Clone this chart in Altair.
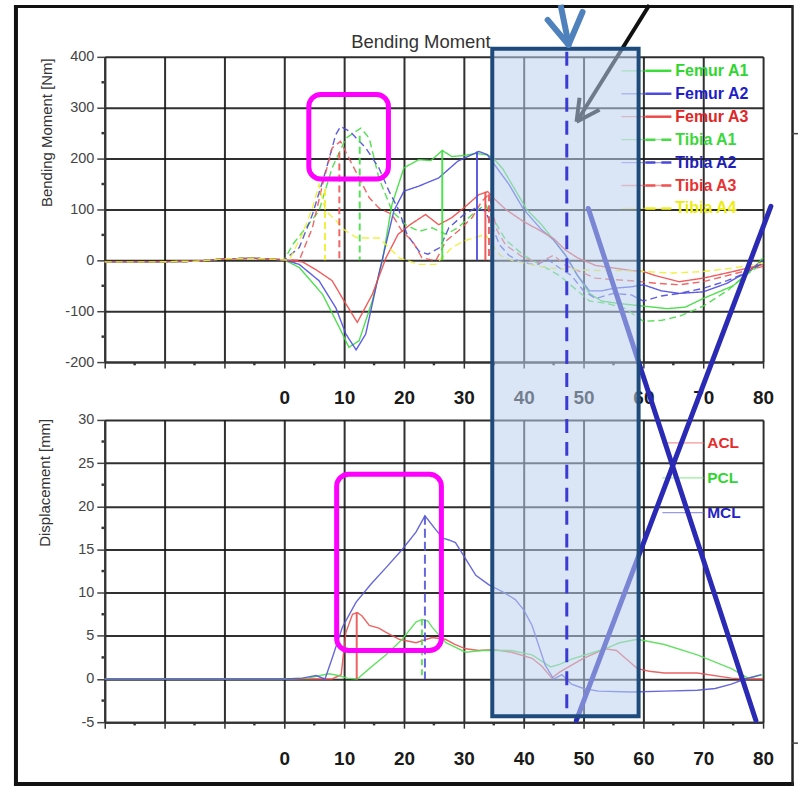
import altair as alt
import pandas as pd

# ---------------- data ----------------
top_series = ["Femur A1", "Femur A2", "Femur A3", "Tibia A1", "Tibia A2", "Tibia A3", "Tibia A4"]

femur_a1_x = [-30, -22, -15, -10, -5, 0, 2.5, 6.4, 9.2, 10.8, 12.5, 14.7, 16.4, 18, 20, 22.5, 24.5, 26.4, 28, 30,
              32, 34, 35, 36.5, 38.5, 40.5, 43, 45, 47, 49, 51, 53, 56, 60, 64, 67, 70, 75, 78, 80]
femur_a1_y = [-3, -3, -2, 3, 4, 1, -14, -67, -132, -171, -158, -80, 0, 110, 182, 198, 196, 216, 204, 206,
              210, 207, 200, 180, 140, 100, 70, 40, 10, -30, -65, -80, -85, -90, -95, -92, -75, -50, -20, 5]

femur_a2_x = [-30, -22, -15, -10, -5, 0, 2.5, 5.8, 8.6, 10.3, 12, 13.6, 15.8, 18.3, 20, 22.5, 25.8, 29, 32.5, 33.9,
              35, 37.5, 40, 43, 45, 47, 49, 51, 53, 55, 58, 60, 63, 66, 70, 74, 77, 80]
femur_a2_y = [-3, -3, -2, 3, 4, 1, -8, -40, -93, -145, -176, -145, -27, 97, 136, 146, 162, 195, 214, 208,
              190, 150, 100, 60, 40, 10, -30, -60, -60, -55, -52, -48, -60, -65, -62, -45, -25, 0]

femur_a3_x = [-30, -22, -15, -10, -5, 0, 3, 5.5, 8, 10, 12.2, 14.7, 17, 19, 21, 23.6, 25.8, 28, 30, 32.5,
              34, 35, 37, 40, 42.5, 45, 47, 49, 52, 55, 58, 60, 62, 66, 70, 75, 80]
femur_a3_y = [-3, -3, -2, 3, 4, 1, -3, -20, -40, -80, -122, -67, 5, 51, 70, 90, 70, 84, 103, 129,
              135, 122, 100, 76, 60, 43, 20, 5, -10, -15, -20, -22, -30, -42, -35, -22, -8]

tibia_a1_x = [-30, -22, -15, -10, -5, 0, 1.4, 3.6, 5.8, 8, 10.3, 12.8, 14.2, 15.8, 18, 20.3, 22.5, 24.7, 27, 29,
              31.4, 33.6, 35, 37, 40, 43, 46, 49, 51, 54, 57, 60, 63, 66, 70, 74, 77, 80]
tibia_a1_y = [-3, -3, -2, 3, 4, 1, 31, 64, 97, 182, 240, 260, 240, 162, 97, 70, 57, 64, 51, 64,
              90, 110, 80, 40, 10, -10, -30, -60, -80, -85, -95, -120, -118, -110, -90, -60, -30, -5]

tibia_a2_x = [-30, -22, -15, -10, -5, 0, 2.5, 4.7, 6.9, 8.6, 9.4, 11, 13.6, 15.8, 17.5, 19.2, 20.5, 22.5, 24, 26,
              27.5, 30, 32, 33.6, 36, 37.5, 39, 42, 44, 46, 48, 50, 52, 55, 58, 60, 63, 66, 70, 74, 77, 80]
tibia_a2_y = [-3, -3, -2, 3, 4, 1, 25, 90, 175, 247, 263, 253, 221, 182, 136, 97, 51, 18, 12, 25,
              64, 90, 103, 97, 30, 10, 0, -10, 2, -15, -30, -60, -75, -65, -68, -80, -70, -65, -55, -40, -25, -5]

tibia_a3_x = [-30, -22, -15, -10, -5, 0, 2.5, 4.7, 6.4, 8, 9.4, 10.8, 12.5, 14.2, 15.8, 18, 19.7, 21.4, 23, 25.3,
              27, 29, 31.4, 33, 34.2, 35.5, 37, 40, 42.5, 45, 47, 49, 52, 55, 58, 62, 66, 70, 74, 80]
tibia_a3_y = [-3, -3, -2, 3, 4, 1, 0, 64, 149, 221, 234, 201, 162, 123, 103, 90, 57, 38, 5, -1,
              38, 57, 84, 116, 130, 60, 30, 5, -5, 10, -10, -20, -35, -38, -40, -45, -48, -42, -30, -12]

tibia_a4_x = [-30, -22, -15, -10, -5, 0, 0.8, 3, 4.7, 5.8, 6.9, 8.5, 10, 12, 13.6, 15.8, 17.5, 19.2, 22.5, 25.3,
              28, 30, 33.6, 36, 38, 40, 44, 48, 52, 56, 60, 65, 70, 75, 80]
tibia_a4_y = [-3, -3, -2, 3, 4, 1, 0, 51, 103, 149, 97, 80, 60, 45, 44, 44, 25, 5, -8, -8,
              25, 38, 51, 10, 0, -5, -15, -18, -20, -20, -22, -25, -22, -15, -5]

top_peak_series = ["Tibia A4", "Tibia A3", "Tibia A1", "Femur A1", "Femur A2", "Femur A3", "Tibia A3"]
top_peak_x = [6.8, 9.2, 12.6, 26.4, 32.2, 33.6, 34.2]
top_peak_y = [140, 212, 245, 216, 214, 135, 130]

bot_series = ["ACL", "PCL", "MCL"]
acl_x = [-30, 0, 8, 9.5, 10.3, 11.4, 12.2, 13, 14.2, 15.8, 17, 19.2, 22, 24.7, 26.9, 28.5, 30.3, 32.5, 35, 38,
         41.4, 43, 44.7, 46, 48, 50, 53.6, 55.5, 57, 59, 61, 63.5, 69, 74.7, 77, 80]
acl_y = [0, 0, 0, 0.5, 5.4, 7.5, 7.7, 7.3, 6.2, 5.9, 5.4, 4.6, 4.2, 4.8, 4.6, 4.0, 3.5, 3.3, 3.4, 3.1,
         2.4, 1.5, 0.1, 0.8, 1.6, 2.4, 3.5, 3.3, 2.4, 1.2, 0.9, 0.7, 0.7, 0.1, 0, 0]
pcl_x = [-30, 0, 4, 6, 7.5, 9, 10.5, 12.2, 14.2, 17, 19.7, 22, 23, 24, 24.7, 27, 30.3, 33, 38, 41.4,
         44.5, 46, 48, 53.6, 56, 59, 63.5, 69, 74.7, 77.5, 80]
pcl_y = [0, 0, 0.1, 0.4, 0.6, 0.4, 0.1, 0, 1.2, 2.8, 4.6, 6.6, 6.9, 6.7, 6.0, 4.2, 3.1, 3.3, 3.3, 2.8,
         1.4, 1.7, 2.3, 3.5, 4.2, 4.6, 4.0, 2.8, 1.2, 0.1, 0.5]
mcl_x = [-30, 0, 3, 5.3, 6.8, 8, 9.7, 12, 14.5, 17, 19.7, 22, 23.5, 25.3, 26.5, 27.5, 28.6, 30.3, 32, 34.2,
         36.5, 38.6, 40, 41.4, 43.6, 45, 46.4, 48, 50, 52.5, 58, 63.5, 69, 72, 74.7, 77, 79.7]
mcl_y = [0, 0, 0.1, 0.4, 0, 2.4, 6.0, 8.9, 11, 12.9, 15, 17, 18.9, 17.3, 16.3, 16.1, 15.8, 13.9, 12, 10.9,
         10.1, 9.2, 8, 6.2, 1.6, 0, 0.5, -0.6, -1.1, -1.4, -1.5, -1.4, -1.3, -1.1, -0.6, 0, 0.5]

bot_peak_series = ["ACL", "PCL", "MCL"]
bot_peak_x = [12.1, 23.0, 23.5]
bot_peak_y = [7.7, 6.9, 18.9]

x_tick_values = list(range(-30, 81, 10))
top_y_tick_values = list(range(-200, 401, 100))
bot_y_tick_values = list(range(-5, 31, 5))

title_text = "Bending Moment"
top_y_title = "Bending Moment [Nm]"
bot_y_title = "Displacement [mm]"

# ---------------- styles ----------------
top_line_colors = ["#3ddc3d", "#4b4be0", "#ee4a4a", "#45dd45", "#4b4bd8", "#ef5555", "#eeee30"]
top_label_colors = ["#2fd62f", "#1e1ec8", "#e02626", "#3ad83a", "#1e1eb8", "#e83232", "#eded10"]
top_dashed = [False, False, False, True, True, True, True]
bot_line_colors = ["#ea5252", "#55de55", "#5656d6"]
bot_label_colors = ["#e62a2a", "#30d630", "#2323c4"]

FONT = "Liberation Sans"
W, H_TOP, H_BOT, GAP = 660, 306, 303, 58
X0, Y0 = 104, 55
Y_BOT0 = Y0 + H_TOP + GAP
X_DOM, TOP_DOM, BOT_DOM = [-30, 80], [-200, 400], [-5, 30]


def ix(x):
    return X0 + (x - X_DOM[0]) / (X_DOM[1] - X_DOM[0]) * W


def iy_top(y):
    return Y0 + (TOP_DOM[1] - y) / (TOP_DOM[1] - TOP_DOM[0]) * H_TOP


def iy_bot(y):
    return Y_BOT0 + (BOT_DOM[1] - y) / (BOT_DOM[1] - BOT_DOM[0]) * H_BOT


one = pd.DataFrame({"k": [0]})


def seg(p1, p2, origin, color, width, dash=None, opacity=1.0, cap="butt"):
    kw = dict(color=color, strokeWidth=width, opacity=opacity, strokeCap=cap)
    if dash:
        kw["strokeDash"] = dash
    ox, oy = origin
    return alt.Chart(one).mark_rule(**kw).encode(
        x=alt.value(p1[0] - ox), y=alt.value(p1[1] - oy),
        x2=alt.value(p2[0] - ox), y2=alt.value(p2[1] - oy))


def txt(s, p, origin, color, size, weight="normal", angle=0, align="left"):
    ox, oy = origin
    return alt.Chart(one).mark_text(
        text=s, font=FONT, fontSize=size, fontWeight=weight, color=color,
        align=align, baseline="middle", angle=angle).encode(
        x=alt.value(p[0] - ox), y=alt.value(p[1] - oy))


def box(p1, p2, origin, **kw):
    ox, oy = origin
    return alt.Chart(one).mark_rect(**kw).encode(
        x=alt.value(p1[0] - ox), x2=alt.value(p2[0] - ox),
        y=alt.value(p1[1] - oy), y2=alt.value(p2[1] - oy))


def x_axis():
    return alt.Axis(values=x_tick_values, grid=True, gridColor="#1a1a1a", gridWidth=2, gridOpacity=0.9,
                    domainColor="#333333", domainWidth=2, tickColor="#333333", tickSize=6, tickWidth=1.5,
                    labelExpr="datum.value >= 0 ? datum.label : ''", labelFont=FONT, labelFontSize=19,
                    labelFontWeight="bold", labelColor="#1a1a1a", labelPadding=21, title=None,
                    labelFlush=False, labelOverlap=False)


def y_axis(vals):
    return alt.Axis(values=vals, grid=True, gridColor="#1a1a1a", gridWidth=2, gridOpacity=0.9,
                    domainColor="#333333", domainWidth=2, tickColor="#444444", tickSize=8, tickWidth=1.5,
                    labelExpr="'' + datum.value",
                    labelFont=FONT, labelFontSize=14.5, labelColor="#444444", labelPadding=3, title=None,
                    labelFlush=False, labelOverlap=False)


x_scale = alt.Scale(domain=X_DOM, nice=False, zero=False)
ytop_scale = alt.Scale(domain=TOP_DOM, nice=False, zero=False)
ybot_scale = alt.Scale(domain=BOT_DOM, nice=False, zero=False)

# ---------------- tables ----------------
top_xs = [femur_a1_x, femur_a2_x, femur_a3_x, tibia_a1_x, tibia_a2_x, tibia_a3_x, tibia_a4_x]
top_ys = [femur_a1_y, femur_a2_y, femur_a3_y, tibia_a1_y, tibia_a2_y, tibia_a3_y, tibia_a4_y]
rows = []
for s, xs, ys in zip(top_series, top_xs, top_ys):
    for i, (a, b) in enumerate(zip(xs, ys)):
        rows.append({"series": s, "x": a, "y": b, "i": i})
top_df = pd.DataFrame(rows)
top_peak_df = pd.DataFrame({"series": top_peak_series, "x": top_peak_x, "y": top_peak_y,
                            "y0": [0] * len(top_peak_x)})

rows = []
for s, xs, ys in zip(bot_series, [acl_x, pcl_x, mcl_x], [acl_y, pcl_y, mcl_y]):
    for i, (a, b) in enumerate(zip(xs, ys)):
        rows.append({"ligament": s, "x": a, "y": b, "i": i})
bot_df = pd.DataFrame(rows)
bot_peak_df = pd.DataFrame({"ligament": bot_peak_series, "x": bot_peak_x, "y": bot_peak_y,
                            "y0": [0] * len(bot_peak_x)})

minor_x = pd.DataFrame({"x": [v + 5 for v in x_tick_values[:-1]]})
minor_top = pd.DataFrame({"y": [v + 50 for v in top_y_tick_values[:-1]]})
minor_bot = pd.DataFrame({"y": [v + 2.5 for v in bot_y_tick_values[:-1]]})

top_color = alt.Color("series:N", scale=alt.Scale(domain=top_series, range=top_line_colors), legend=None)
top_dash = alt.StrokeDash("series:N", scale=alt.Scale(domain=top_series,
                          range=[[7, 4] if d else [1, 0] for d in top_dashed]), legend=None)
bot_color = alt.Color("ligament:N", scale=alt.Scale(domain=bot_series, range=bot_line_colors), legend=None)
bot_dash = alt.StrokeDash("ligament:N", scale=alt.Scale(domain=bot_series,
                          range=[[1, 0], [6, 4], [9, 4]]), legend=None)

XT = alt.X("x:Q", scale=x_scale, axis=x_axis())
YT = alt.Y("y:Q", scale=ytop_scale, axis=y_axis(top_y_tick_values))
YB = alt.Y("y:Q", scale=ybot_scale, axis=y_axis(bot_y_tick_values))

TOP_O = (X0, Y0)
BOT_O = (X0, Y_BOT0)

# ---------------- top panel ----------------
top_layers = [
    box((0, 0), (800, 787), TOP_O, fill="white", opacity=0),  # page anchor
    alt.Chart(top_df).mark_line(strokeWidth=1.4, opacity=0.9).encode(
        x=XT, y=YT, color=top_color, strokeDash=top_dash, order="i:Q"),
    alt.Chart(top_peak_df).mark_rule(strokeWidth=2, opacity=0.9).encode(
        x=XT, y=YT, y2="y0:Q", color=top_color, strokeDash=top_dash),
    alt.Chart(minor_x).mark_square(size=6, color="#333333", opacity=1).encode(
        x=XT, y=alt.value(H_TOP + 2)),
    alt.Chart(minor_top).mark_square(size=6, color="#333333", opacity=1).encode(
        y=YT, x=alt.value(-2)),
    txt(title_text, (421, 40), TOP_O, "#333333", 18.5, align="center"),
    txt(top_y_title, (46, 131), TOP_O, "#333333", 15, angle=270, align="center"),
    # magenta highlight box (data units)
    box((ix(4.1), iy_top(326)), (ix(17.4), iy_top(160)), TOP_O,
        filled=False, color="#ff00ff", strokeWidth=5, cornerRadius=12, opacity=1),
    # outer frame
    seg((15, 3), (15, 785), TOP_O, "#111111", 4),
    seg((13, 4.5), (794, 4.5), TOP_O, "#111111", 3),
    seg((13, 784), (795, 784), TOP_O, "#111111", 4),
    seg((793.5, 3), (793.5, 786), TOP_O, "#222222", 2.5),
    seg((793, 132), (799, 132), TOP_O, "#444444", 1.5),
    seg((793, 743), (799, 743), TOP_O, "#444444", 1.5),
]
for k, (name, lc, tc, d) in enumerate(zip(top_series, top_line_colors, top_label_colors, top_dashed)):
    yy = 69 + 23 * k
    top_layers.append(seg((622, yy), (672, yy), TOP_O, lc, 1.3, opacity=0.55))
    top_layers.append(seg((646, yy), (672, yy), TOP_O, lc, 2.5, dash=[10, 6] if d else None))
    top_layers.append(txt(name, (676, yy), TOP_O, tc, 16, weight="bold"))

top = alt.layer(*top_layers).properties(width=W, height=H_TOP)

# ---------------- bottom panel ----------------
bot_layers = [
    alt.Chart(bot_df).mark_line(strokeWidth=1.4, opacity=0.9).encode(
        x=XT, y=YB, color=bot_color, order="i:Q"),
    alt.Chart(bot_peak_df).mark_rule(strokeWidth=2, opacity=0.9).encode(
        x=XT, y=YB, y2="y0:Q", color=bot_color, strokeDash=bot_dash),
    alt.Chart(minor_x).mark_square(size=6, color="#333333", opacity=1).encode(
        x=XT, y=alt.value(H_BOT + 2)),
    alt.Chart(minor_bot).mark_square(size=6, color="#333333", opacity=1).encode(
        y=YB, x=alt.value(-2)),
    txt(bot_y_title, (44, 482), BOT_O, "#333333", 15, angle=270, align="center"),
    box((ix(8.75), iy_bot(23.7)), (ix(26.25), iy_bot(3.3)), BOT_O,
        filled=False, color="#ff00ff", strokeWidth=5, cornerRadius=12, opacity=1),
]
for k, (name, lc, tc) in enumerate(zip(bot_series, bot_line_colors, bot_label_colors)):
    yy = 442 + 35 * k
    bot_layers.append(seg((663, yy), (705, yy), BOT_O, lc, 1.3, opacity=0.6))
    bot_layers.append(txt(name, (708, yy), BOT_O, tc, 15.5, weight="bold"))

# big crossing lines (end points in data units of each panel)
bot_layers += [
    seg((ix(50.8), iy_top(102)), (ix(78.8), iy_bot(-4.8)), BOT_O, "#2a2ab4", 5, cap="round"),
    seg((ix(48.8), iy_bot(-4.8)), (ix(81.3), iy_top(106)), BOT_O, "#2a2ab4", 5, cap="round"),
    # black arrow
    seg((650, 3), (579, 117), BOT_O, "#111111", 4),
    seg((580, 96), (577, 120), BOT_O, "#111111", 4),
    seg((600, 108), (577, 120), BOT_O, "#111111", 4),
    # shaded window
    box((ix(34.75), 47), (ix(59.2), 716), BOT_O,
        fill="#bcd2ee", fillOpacity=0.55, stroke="#1f4a7c", strokeWidth=4),
    # dashed marker line
    seg((ix(47.2), 50), (ix(47.2), 714), BOT_O, "#3b3bd4", 3, dash=[14, 9]),
    # blue arrow
    seg((561, 3), (569, 42), BOT_O, "#4f81bd", 6),
    seg((548, 18), (569, 43), BOT_O, "#4f81bd", 6, cap="round"),
    seg((583, 10), (569, 43), BOT_O, "#4f81bd", 6, cap="round"),
]

bottom = alt.layer(*bot_layers).properties(width=W, height=H_BOT)

chart = alt.vconcat(top, bottom, spacing=GAP, bounds="flush", padding=0).resolve_scale(
    color="independent", strokeDash="independent").configure_view(
    stroke=None).configure(background="white")

chart.save("out.html", embed_options={"renderer": "svg", "actions": False})
